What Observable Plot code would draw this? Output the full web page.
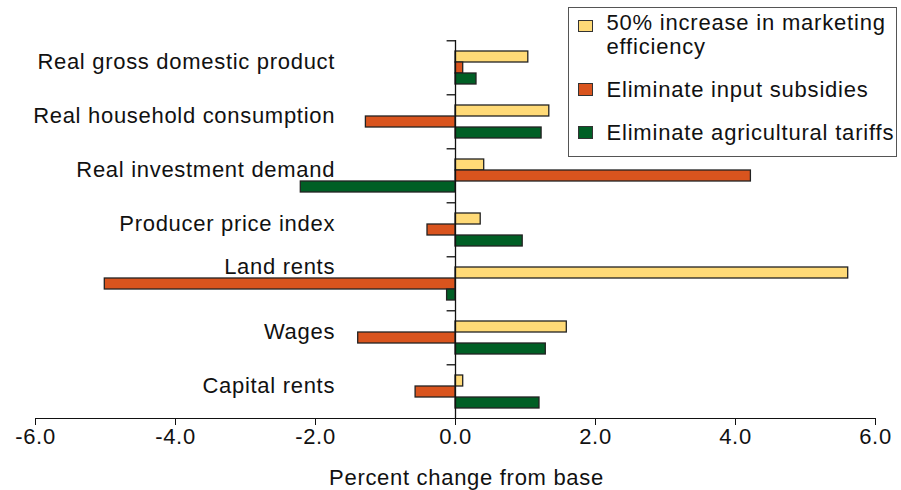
<!DOCTYPE html>
<html><head><meta charset="utf-8">
<script src="https://cdn.jsdelivr.net/npm/d3@7"></script>
<script src="https://cdn.jsdelivr.net/npm/@observablehq/plot@0.6"></script>
<style>
body{margin:0;background:#fff;}
#wrap{position:relative;width:901px;height:490px;font-family:"Liberation Sans",Arial,Helvetica,sans-serif;}
#legend{position:absolute;left:568px;top:7px;width:329px;height:150px;border:1.5px solid #555;box-sizing:border-box;background:#fff;display:flex;flex-direction:column;gap:19px;padding:3px 0 0 8.5px;}
.item{display:flex;align-items:flex-start;}
.sw{flex:none;margin-top:5px;width:15px;height:13px;border:1.5px solid #333;box-sizing:border-box;}
.item:first-child .sw{margin-top:9px;height:12px;}
.lab{margin-left:14px;width:290px;font-size:22px;line-height:24px;letter-spacing:0.8px;color:#111;}
</style></head>
<body><div id="wrap"></div>
<script>
const categories = ["Real gross domestic product", "Real household consumption", "Real investment demand", "Producer price index", "Land rents", "Wages", "Capital rents"];
const seriesNames = ["50% increase in marketing efficiency", "Eliminate input subsidies", "Eliminate agricultural tariffs"];
const marketingEfficiency = [1.04, 1.34, 0.41, 0.36, 5.61, 1.59, 0.11];
const inputSubsidies = [0.11, -1.28, 4.22, -0.40, -5.01, -1.39, -0.57];
const agriculturalTariffs = [0.30, 1.23, -2.21, 0.96, -0.12, 1.29, 1.20];
const seriesColors = ["#FFDA77", "#D9541E", "#005F25"];
const xTicks = [-6, -4, -2, 0, 2, 4, 6];
const xLabel = "Percent change from base";

const seriesValues = [marketingEfficiency, inputSubsidies, agriculturalTariffs];
const data = categories.flatMap((c, i) => seriesNames.map((s, k) => ({category: c, series: s, value: seriesValues[k][i]})));

const W = 901, H = 490, mt = 38, mb = 71, ml = 35, mr = 26;
const facetH = (H - mt - mb) / categories.length;
const labelX = -1.72;
// a category label sits beside the middle row, or beside the top row when the middle bar runs under it
const labelRow = categories.map((c, i) => inputSubsidies[i] < labelX ? seriesNames[0] : seriesNames[1]);
const lastCategory = categories[categories.length - 1];

const chart = Plot.plot({
  width: W, height: H,
  marginTop: mt, marginBottom: mb, marginLeft: ml, marginRight: mr,
  style: {fontFamily: '"Liberation Sans", Arial, Helvetica, sans-serif', fontSize: "22px", letterSpacing: "0.7px", color: "#111", background: "white", overflow: "visible"},
  x: {domain: [-6, 6], ticks: xTicks, tickFormat: d => d.toFixed(1), tickSize: 7, tickPadding: 3, line: true, label: null},
  y: {domain: seriesNames, paddingInner: 0, paddingOuter: 0.768, axis: null},
  fy: {domain: categories, padding: 0, axis: null},
  color: {domain: seriesNames, range: seriesColors},
  marks: [
    Plot.barX(data, {fy: "category", y: "series", x: "value", fill: "series", stroke: "#222", strokeWidth: 1.3}),
    Plot.ruleX([0], {stroke: "#111", strokeWidth: 1.3}),
    Plot.ruleY(categories, {fy: d => d, y: () => seriesNames[1], x1: -0.12, x2: 0, dy: -facetH / 2, stroke: "#111", strokeWidth: 1.3}),
    Plot.text(categories, {fy: d => d, y: (d, i) => labelRow[i], x: labelX, text: d => d, textAnchor: "end", dy: -6, fontSize: 22, fill: "#111"}),
    Plot.text([xLabel], {fy: () => lastCategory, frameAnchor: "bottom", dy: 66, dx: 11, text: d => d, fontSize: 22, fill: "#111"})
  ]
});

const wrap = document.getElementById("wrap");
wrap.appendChild(chart);

const legend = document.createElement("div");
legend.id = "legend";
seriesNames.forEach((s, k) => {
  const item = document.createElement("div");
  item.className = "item";
  const sw = document.createElement("div");
  sw.className = "sw";
  sw.style.background = seriesColors[k];
  const lab = document.createElement("div");
  lab.className = "lab";
  lab.textContent = s;
  item.appendChild(sw);
  item.appendChild(lab);
  legend.appendChild(item);
});
wrap.appendChild(legend);
</script>
</body></html>
